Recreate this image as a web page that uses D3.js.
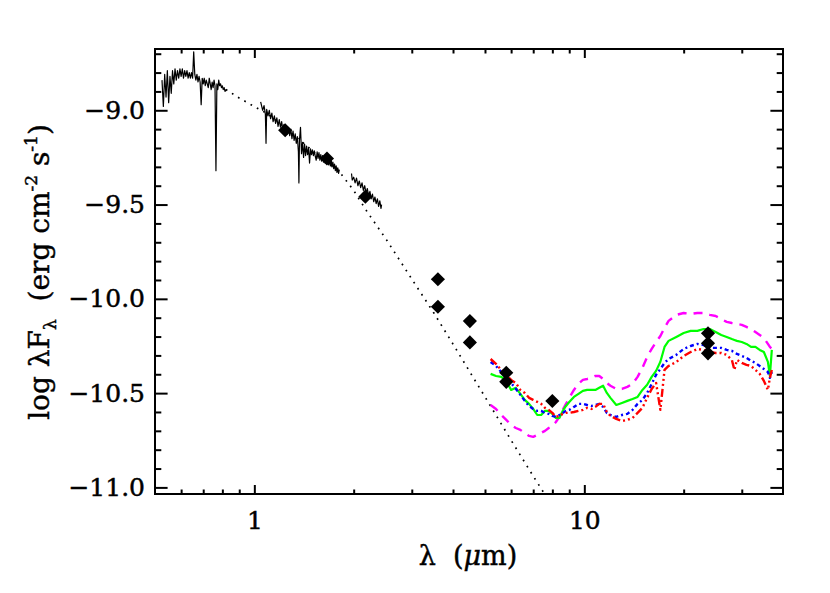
<!DOCTYPE html>
<html>
<head>
<meta charset="utf-8">
<script src="https://cdn.jsdelivr.net/npm/d3@7"></script>
<style>
body { margin: 0; background: #fff; }
text { font-family: "DejaVu Serif", serif; fill: #000; stroke: #000; stroke-width: 0.45px; }
</style>
</head>
<body>
<div id="chart"></div>
<script>

// ---- data (lambda in micron, log lambda F_lambda) ----

// optical spectrum
var specOptLam = [0.525, 0.530, 0.535, 0.540, 0.545, 0.550, 0.555, 0.560, 0.565, 0.570,
    0.575, 0.580, 0.585, 0.590, 0.595, 0.600, 0.605, 0.610, 0.615, 0.620,
    0.625, 0.630, 0.635, 0.640, 0.645, 0.650, 0.655, 0.660, 0.665, 0.670,
    0.675, 0.680, 0.685, 0.690, 0.695, 0.700, 0.705, 0.710, 0.715, 0.720,
    0.725, 0.730, 0.735, 0.740, 0.745, 0.750, 0.755, 0.760, 0.765, 0.770,
    0.775, 0.780, 0.785, 0.790, 0.795, 0.800, 0.805, 0.810, 0.815, 0.820]
var specOptVal = [-8.84, -8.98, -8.81, -8.93, -8.79, -8.96, -8.82, -8.91, -8.79, -8.86,
    -8.78, -8.84, -8.79, -8.83, -8.78, -8.82, -8.78, -8.83, -8.79, -8.82,
    -8.79, -8.83, -8.80, -8.83, -8.80, -8.83, -8.69, -8.81, -8.84, -8.81,
    -8.85, -8.82, -8.85, -8.97, -8.83, -8.86, -8.83, -8.87, -8.84, -8.86,
    -8.88, -8.83, -8.86, -8.89, -8.85, -8.88, -8.84, -8.87, -9.32, -8.86,
    -8.89, -8.84, -8.87, -8.86, -8.88, -8.87, -8.89, -8.88, -8.90, -8.89]

// J/H spectrum
var specJHLam = [1.045, 1.06, 1.07, 1.08, 1.085, 1.09, 1.10, 1.11, 1.12, 1.13,
    1.14, 1.15, 1.16, 1.17, 1.18, 1.19, 1.20, 1.21, 1.22, 1.23,
    1.24, 1.25, 1.26, 1.27, 1.28, 1.29, 1.30, 1.31, 1.32, 1.33,
    1.34, 1.35, 1.36, 1.365, 1.37, 1.38, 1.39, 1.40, 1.41, 1.42,
    1.43, 1.44, 1.45, 1.46, 1.47, 1.48, 1.49, 1.50, 1.51, 1.52,
    1.53, 1.54, 1.55, 1.56, 1.57, 1.58, 1.59, 1.60, 1.61, 1.62,
    1.63, 1.64, 1.65, 1.66, 1.67, 1.68, 1.69, 1.70, 1.71, 1.72,
    1.73, 1.74, 1.75, 1.76, 1.77, 1.78, 1.79, 1.80, 1.81]
var specJHVal = [-8.955, -9.00, -8.975, -9.02, -9.175, -8.995, -9.03, -9.00, -9.045, -9.015,
    -9.06, -9.03, -9.07, -9.04, -9.085, -9.05, -9.09, -9.06, -9.105, -9.075,
    -9.115, -9.085, -9.125, -9.09, -9.135, -9.10, -9.15, -9.11, -9.16, -9.125,
    -9.175, -9.14, -9.22, -9.385, -9.16, -9.09, -9.23, -9.17, -9.25, -9.18,
    -9.24, -9.19, -9.235, -9.20, -9.28, -9.205, -9.235, -9.21, -9.24, -9.215,
    -9.245, -9.265, -9.22, -9.255, -9.225, -9.265, -9.235, -9.27, -9.24, -9.275,
    -9.245, -9.28, -9.25, -9.285, -9.255, -9.29, -9.26, -9.295, -9.265, -9.30,
    -9.275, -9.31, -9.285, -9.32, -9.295, -9.33, -9.305, -9.335, -9.315]

// K spectrum
var specKLam = [1.97, 1.98, 2.00, 2.02, 2.04, 2.06, 2.08, 2.10, 2.12, 2.14, 2.16, 2.18,
    2.20, 2.22, 2.24, 2.26, 2.28, 2.30, 2.32, 2.34, 2.36, 2.38, 2.40, 2.42, 2.43]
var specKVal = [-9.335, -9.37, -9.355, -9.385, -9.36, -9.40, -9.375, -9.41, -9.385, -9.425, -9.40, -9.44,
    -9.415, -9.455, -9.43, -9.47, -9.445, -9.485, -9.46, -9.495, -9.47, -9.51, -9.48, -9.52, -9.50]

// stellar photosphere (dotted)
var photoLam = [0.82, 0.9, 1.0, 1.1, 1.25, 1.4, 1.6, 1.8, 2.0, 2.2, 2.5, 3.0, 3.5, 4.0, 5.0, 6.0, 7.0, 8.0]
var photoVal = [-8.89, -8.935, -8.98, -9.02, -9.10, -9.17, -9.255, -9.32, -9.425, -9.54,
    -9.68, -9.895, -10.075, -10.24, -10.52, -10.75, -10.94, -11.10]

// photometry (diamonds)
var photLam = [1.24, 1.66, 2.17, 3.6, 3.6, 4.5, 4.5, 5.8, 5.8, 8.0, 23.7, 23.7, 23.7]
var photVal = [-9.106, -9.256, -9.458, -9.896, -10.042, -10.118, -10.231, -10.392, -10.44,
    -10.542, -10.183, -10.236, -10.289]

// disk models
var modelLam = [5.2, 5.4, 5.6, 5.8, 6.0, 6.2, 6.4, 6.6, 6.8, 7.0,
    7.2, 7.4, 7.6, 7.8, 8.0, 8.2, 8.4, 8.6, 8.8, 9.0,
    9.3, 9.6, 9.9, 10.2, 10.5, 10.8, 11.1, 11.4, 11.7, 12.0,
    12.5, 13.0, 13.5, 14.0, 14.5, 15.0, 15.5, 16.0, 16.5, 17.0,
    17.5, 18.0, 19.0, 20.0, 21.0, 22.0, 23.0, 24.0, 25.0, 26.0,
    27.0, 28.0, 28.5, 29.0, 30.0, 31.0, 32.0, 33.0, 34.0, 35.0,
    36.0, 36.5, 37.0]
var modelMagenta = [-10.563, -10.584, -10.616, -10.642, -10.669, -10.685, -10.695, -10.711, -10.727, -10.732,
    -10.722, -10.711, -10.700, -10.685, -10.674, -10.653, -10.626, -10.589, -10.557, -10.525,
    -10.483, -10.451, -10.430, -10.425, -10.419, -10.409, -10.409, -10.425, -10.446, -10.461,
    -10.478, -10.478, -10.467, -10.451, -10.414, -10.366, -10.308, -10.265, -10.229, -10.197,
    -10.154, -10.117, -10.085, -10.075, -10.080, -10.075, -10.075, -10.085, -10.091, -10.107,
    -10.122, -10.128, -10.130, -10.133, -10.138, -10.149, -10.160, -10.176, -10.192, -10.207,
    -10.239, -10.255, -10.265]
var modelGreen = [-10.398, -10.409, -10.414, -10.435, -10.483, -10.472, -10.504, -10.536, -10.557, -10.584,
    -10.616, -10.616, -10.594, -10.594, -10.610, -10.632, -10.632, -10.594, -10.568, -10.547,
    -10.520, -10.504, -10.488, -10.483, -10.483, -10.483, -10.472, -10.461, -10.499, -10.525,
    -10.563, -10.552, -10.541, -10.531, -10.520, -10.483, -10.456, -10.414, -10.382, -10.334,
    -10.255, -10.223, -10.202, -10.181, -10.170, -10.170, -10.160, -10.160, -10.176, -10.192,
    -10.202, -10.213, -10.218, -10.223, -10.229, -10.239, -10.255, -10.255, -10.271, -10.282,
    -10.334, -10.409, -10.271]
var modelBlue = [-10.335, -10.356, -10.388, -10.419, -10.446, -10.477, -10.509, -10.541, -10.568, -10.584,
    -10.594, -10.594, -10.605, -10.610, -10.621, -10.626, -10.616, -10.605, -10.594, -10.589,
    -10.573, -10.557, -10.557, -10.563, -10.568, -10.563, -10.557, -10.573, -10.605, -10.616,
    -10.626, -10.616, -10.610, -10.589, -10.557, -10.536, -10.499, -10.451, -10.403, -10.372,
    -10.340, -10.319, -10.297, -10.266, -10.250, -10.239, -10.245, -10.260, -10.260, -10.260,
    -10.271, -10.276, -10.284, -10.292, -10.303, -10.313, -10.329, -10.340, -10.356, -10.372,
    -10.388, -10.419, -10.388]
var modelRed = [-10.319, -10.345, -10.377, -10.403, -10.430, -10.446, -10.483, -10.499, -10.525, -10.536,
    -10.546, -10.557, -10.578, -10.589, -10.605, -10.626, -10.621, -10.610, -10.605, -10.605,
    -10.600, -10.594, -10.589, -10.578, -10.584, -10.573, -10.557, -10.557, -10.600, -10.621,
    -10.637, -10.648, -10.642, -10.632, -10.605, -10.578, -10.525, -10.478, -10.446, -10.589,
    -10.377, -10.356, -10.335, -10.303, -10.282, -10.266, -10.271, -10.282, -10.287, -10.287,
    -10.297, -10.324, -10.377, -10.324, -10.340, -10.350, -10.356, -10.377, -10.398, -10.435,
    -10.483, -10.419, -10.377]

// ticks
var xMajor = [1, 10]
var xMinor = [0.6, 0.7, 0.8, 0.9, 2, 3, 4, 5, 6, 7, 8, 9, 20, 30]
var yMajor = [-11.0, -10.5, -10.0, -9.5, -9.0]
var yMinor = [-10.9, -10.8, -10.7, -10.6, -10.4, -10.3, -10.2, -10.1, -9.9, -9.8,
    -9.7, -9.6, -9.4, -9.3, -9.2, -9.1, -8.9, -8.8, -8.7]

// ---- layout ----
var W = 830, H = 593
var pL = 155, pR = 783, pT = 49, pB = 494

var svg = d3.select("#chart")
    .append("svg")
    .attr("width", W)
    .attr("height", H)

svg.append("rect").attr("width", W).attr("height", H).attr("fill", "#fff")

var x = d3.scaleLog().domain([0.5, 40]).range([pL, pR])
var y = d3.scaleLinear().domain([-11.035, -8.675]).range([pB, pT])

svg.append("defs").append("clipPath").attr("id", "clip")
    .append("rect")
    .attr("x", pL).attr("y", pT)
    .attr("width", pR - pL).attr("height", pB - pT)

var plot = svg.append("g").attr("clip-path", "url(#clip)")

var line = d3.line()
    .x(function (d) { return x(d[0]) })
    .y(function (d) { return y(d[1]) })

function drawLine(lam, val, color, width, dash) {
    plot.append("path")
        .datum(d3.zip(lam, val))
        .attr("d", line)
        .attr("fill", "none")
        .attr("stroke", color)
        .attr("stroke-width", width)
        .attr("stroke-dasharray", dash)
        .attr("stroke-linejoin", "round")
}

// spectra + photosphere
drawLine(photoLam, photoVal, "#000", 1.7, "1.7,5.5")
drawLine(specOptLam, specOptVal, "#000", 1.2, null)
drawLine(specJHLam, specJHVal, "#000", 1.2, null)
drawLine(specKLam, specKVal, "#000", 1.2, null)

// models
drawLine(modelLam, modelMagenta, "#ff00ff", 2.4, "9,7")
drawLine(modelLam, modelGreen, "#00ff00", 2.2, null)
drawLine(modelLam, modelBlue, "#0000ff", 2.4, "4,3,2,3")
drawLine(modelLam, modelRed, "#ff0000", 2.4, "8,3,2,3,2,3,2,3")

// diamonds
plot.selectAll(".phot")
    .data(d3.zip(photLam, photVal))
    .enter().append("path")
    .attr("class", "phot")
    .attr("d", d3.symbol(d3.symbolSquare, 100))
    .attr("transform", function (d) {
        return "translate(" + x(d[0]) + "," + y(d[1]) + ") rotate(45)"
    })
    .attr("fill", "#000")

// ---- axes (IDL style, ticks inward on all four sides) ----
function styleAxis(g) {
    g.select(".domain").remove()
    g.selectAll("line").attr("stroke", "#000").attr("stroke-width", 2)
    g.selectAll("text").style("font-size", "25px").style("font-family", "DejaVu Serif")
}

svg.append("g").attr("transform", "translate(0," + pB + ")")
    .call(d3.axisBottom(x).tickValues(xMajor).tickSize(-9).tickPadding(17)
        .tickFormat(function (d) { return d3.format("d")(d) }))
    .call(styleAxis)
svg.append("g").attr("transform", "translate(0," + pB + ")")
    .call(d3.axisBottom(x).tickValues(xMinor).tickSize(-4.5).tickFormat(""))
    .call(styleAxis)
svg.append("g").attr("transform", "translate(0," + pT + ")")
    .call(d3.axisTop(x).tickValues(xMajor).tickSize(-9).tickFormat(""))
    .call(styleAxis)
svg.append("g").attr("transform", "translate(0," + pT + ")")
    .call(d3.axisTop(x).tickValues(xMinor).tickSize(-4.5).tickFormat(""))
    .call(styleAxis)

svg.append("g").attr("transform", "translate(" + pL + ",0)")
    .call(d3.axisLeft(y).tickValues(yMajor).tickSize(-12.6).tickPadding(10)
        .tickFormat(function (d) { return d3.format(".1f")(d).replace("-", "\u2212") }))
    .call(styleAxis)
svg.append("g").attr("transform", "translate(" + pL + ",0)")
    .call(d3.axisLeft(y).tickValues(yMinor).tickSize(-6.3).tickFormat(""))
    .call(styleAxis)
svg.append("g").attr("transform", "translate(" + pR + ",0)")
    .call(d3.axisRight(y).tickValues(yMajor).tickSize(-12.6).tickFormat(""))
    .call(styleAxis)
svg.append("g").attr("transform", "translate(" + pR + ",0)")
    .call(d3.axisRight(y).tickValues(yMinor).tickSize(-6.3).tickFormat(""))
    .call(styleAxis)

// frame
svg.append("rect")
    .attr("x", pL).attr("y", pT)
    .attr("width", pR - pL).attr("height", pB - pT)
    .attr("fill", "none").attr("stroke", "#000").attr("stroke-width", 2)

// axis titles
var xt = svg.append("text")
    .attr("x", 468)
    .attr("y", 565)
    .attr("text-anchor", "middle")
    .style("font-size", "27px")
    .style("white-space", "pre")
xt.append("tspan").text("\u03bb  (")
xt.append("tspan").style("font-style", "italic").text("\u03bc")
xt.append("tspan").text("m)")

var yt = svg.append("text")
    .attr("transform", "translate(49,272) rotate(-90)")
    .attr("text-anchor", "middle")
    .style("font-size", "28px")
    .style("white-space", "pre")
yt.append("tspan").text("log \u03bbF")
yt.append("tspan").attr("dy", 7).style("font-size", "17px").text("\u03bb")
yt.append("tspan").attr("dy", -7).text("  (erg cm")
yt.append("tspan").attr("dy", -12).style("font-size", "17px").text("-2")
yt.append("tspan").attr("dy", 12).text(" s")
yt.append("tspan").attr("dy", -12).style("font-size", "17px").text("-1")
yt.append("tspan").attr("dy", 12).text(")")

</script>
</body>
</html>
